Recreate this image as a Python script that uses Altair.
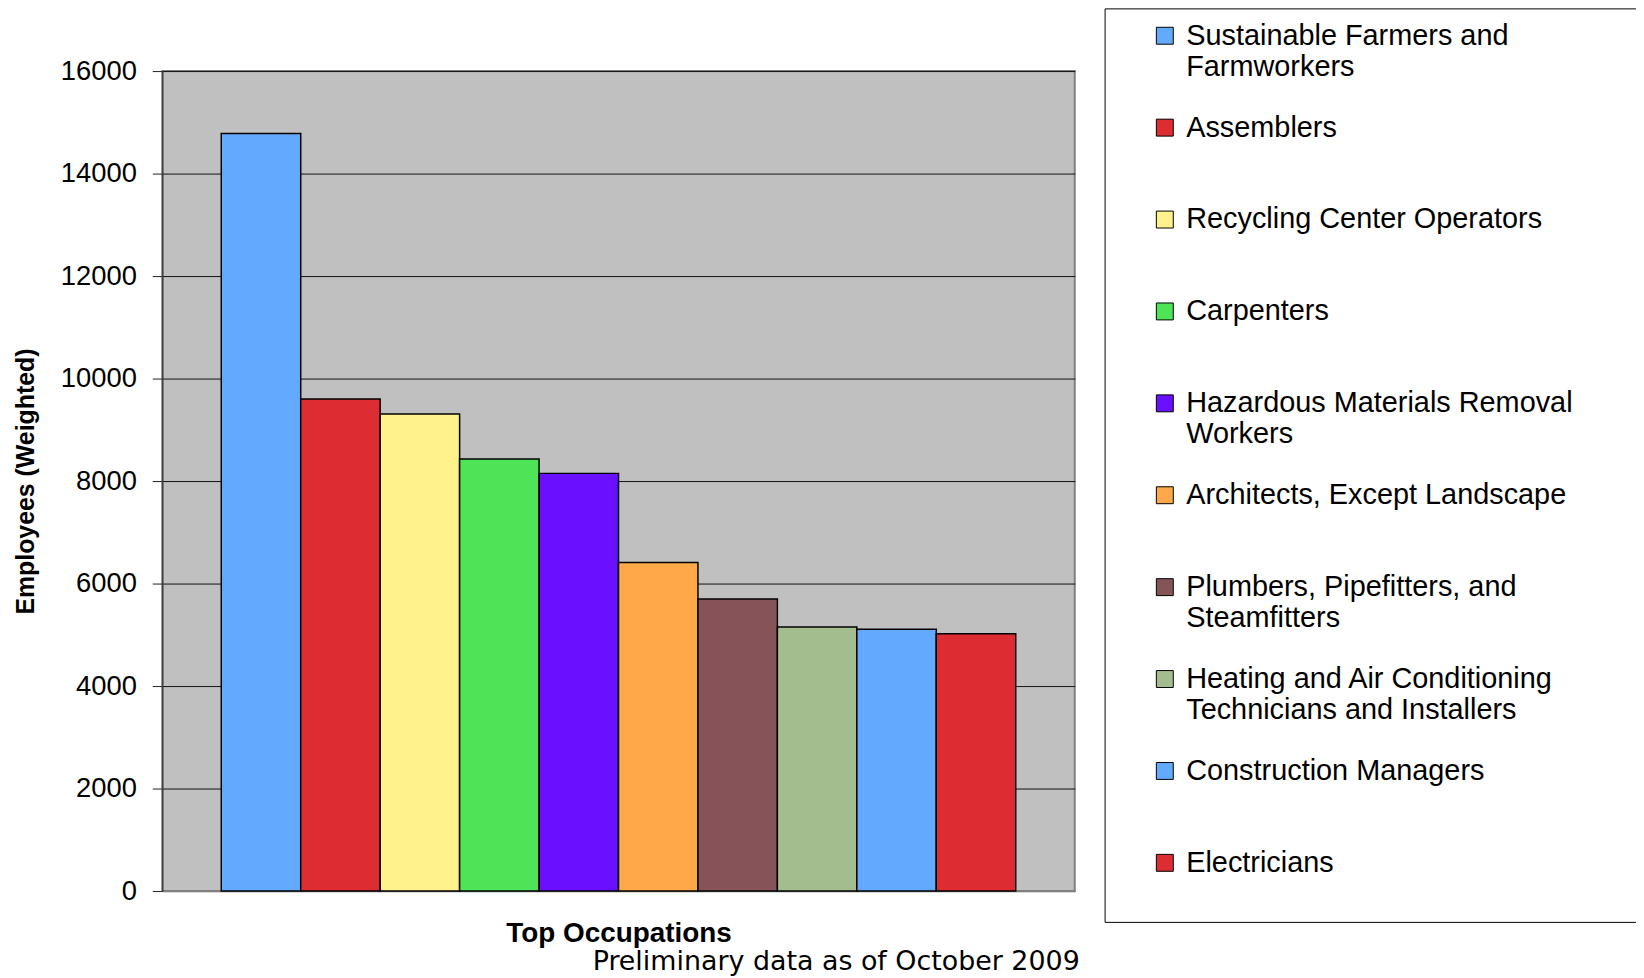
import altair as alt
import pandas as pd

# ---- data ----
occupations = [
    "Sustainable Farmers and\nFarmworkers",
    "Assemblers",
    "Recycling Center Operators",
    "Carpenters",
    "Hazardous Materials Removal\nWorkers",
    "Architects, Except Landscape",
    "Plumbers, Pipefitters, and\nSteamfitters",
    "Heating and Air Conditioning\nTechnicians and Installers",
    "Construction Managers",
    "Electricians",
]
employees = [14780, 9600, 9310, 8430, 8150, 6410, 5700, 5150, 5110, 5020]
bar_colors = [
    "#63AAFF", "#DD2C32", "#FFF28C", "#4FE357", "#6A0FFF",
    "#FFA849", "#865458", "#A3BD8F", "#63AAFF", "#DD2C32",
]
y_ticks = [0, 2000, 4000, 6000, 8000, 10000, 12000, 14000, 16000]

df = pd.DataFrame({"Occupation": occupations, "Employees": employees})

label_expr = (
    "indexof(datum.label, '\\n') >= 0 ? split(datum.label, '\\n') : [datum.label, ' ']"
)

chart = (
    alt.Chart(df)
    .mark_bar(stroke="black", strokeWidth=1.5)
    .encode(
        x=alt.X(
            "Occupation:N",
            sort=occupations,
            scale=alt.Scale(paddingInner=0, paddingOuter=0.743),
            axis=alt.Axis(
                title="Top Occupations",
                labels=False,
                ticks=False,
                domainColor="#808080",
                domainWidth=1.5,
                titleFont="Liberation Sans",
                titleFontSize=28,
                titleFontWeight="bold",
                titleColor="black",
                titlePadding=29,
            ),
        ),
        y=alt.Y(
            "Employees:Q",
            scale=alt.Scale(domain=[0, 16000], nice=False),
            axis=alt.Axis(
                values=y_ticks,
                format="d",
                grid=True,
                gridColor="#111111",
                gridWidth=1,
                tickColor="#222222",
                tickSize=10,
                tickWidth=1,
                domainColor="#404040",
                domainWidth=1.5,
                labelFont="Liberation Sans",
                labelFontSize=27.5,
                labelColor="black",
                labelPadding=16,
                labelFlush=False,
                labelOverlap=False,
                title="Employees (Weighted)",
                titleFont="Liberation Sans",
                titleFontSize=25,
                titleFontWeight="bold",
                titleColor="black",
                titlePadding=22,
            ),
        ),
        color=alt.Color(
            "Occupation:N",
            scale=alt.Scale(domain=occupations, range=bar_colors),
            legend=alt.Legend(
                title=" ",
                titleOrient="right",
                titlePadding=120,
                orient="none",
                legendX=947,
                legendY=-63,
                direction="vertical",
                strokeColor="black",
                fillColor="white",
                padding=13,
                symbolType="square",
                symbolSize=289,
                symbolStrokeColor="black",
                symbolStrokeWidth=1,
                symbolOffset=33,
                labelOffset=7,
                labelFont="Liberation Sans",
                labelFontSize=29,
                labelColor="black",
                labelLimit=900,
                labelExpr=label_expr,
                rowPadding=31.35,
                gridAlign="all",
            ),
        ),
    )
    .properties(
        width=917,
        height=824,
        title=alt.TitleParams(
            "Preliminary data as of October 2009",
            orient="bottom",
            anchor="end",
            frame="group",
            font="DejaVu Sans",
            fontSize=27,
            fontWeight="normal",
            color="black",
            offset=2,
            dx=5,
            dy=-1,
        ),
        autosize=alt.AutoSizeParams(type="none"),
        padding={"left": 155, "top": 61, "right": 564, "bottom": 85},
        background="white",
    )
    .configure_view(fill="#C0C0C0", stroke="#808080", strokeWidth=2)
)

chart.save("out.html", embed_options={"renderer": "svg", "actions": False})
